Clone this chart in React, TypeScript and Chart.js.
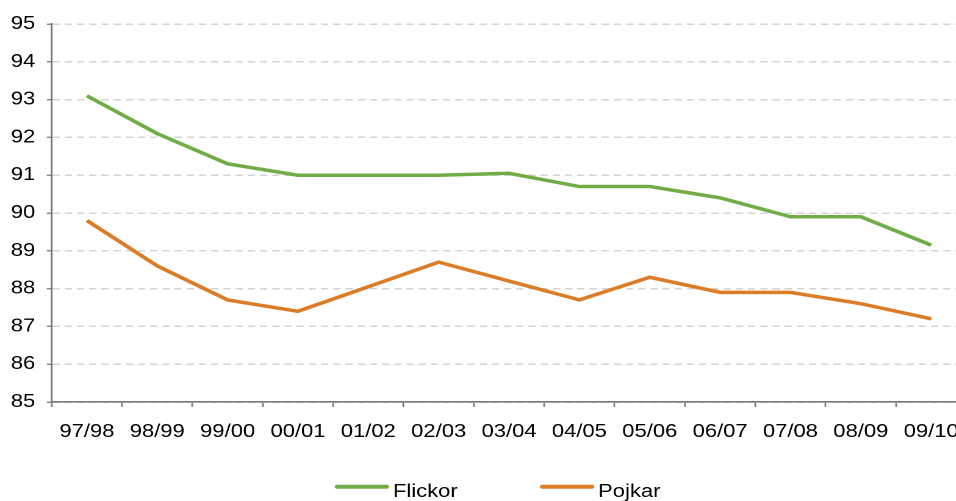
import React, { useEffect, useRef } from "react";
import { Chart, registerables } from "chart.js";

Chart.register(...registerables);

const categories = ["97/98", "98/99", "99/00", "00/01", "01/02", "02/03", "03/04", "04/05", "05/06", "06/07", "07/08", "08/09", "09/10"];
const flickor = [93.1, 92.1, 91.3, 91.0, 91.0, 91.0, 91.05, 90.7, 90.7, 90.4, 89.9, 89.9, 89.15];
const pojkar = [89.8, 88.6, 87.7, 87.4, 88.05, 88.7, 88.2, 87.7, 88.3, 87.9, 87.9, 87.6, 87.2];
const seriesLabels = ["Flickor", "Pojkar"];
const seriesColors = ["#70AD47", "#DC7C27"];
const yMin = 85;
const yMax = 95;

const SX = 1.22;
const W = 800;
const H = 520;
const FONT = '"Liberation Sans", Arial, Helvetica, sans-serif';
const FS = 18;
const AXIS = "#7a7a7a";

const legendPlugin = {
  id: "customLegend",
  afterDraw(chart: any) {
    const ctx = chart.ctx;
    ctx.save();
    ctx.font = `${FS}px ${FONT}`;
    ctx.textBaseline = "alphabetic";
    ctx.textAlign = "left";
    let x = 275.4;
    const lineY = 486.7;
    const textY = 497;
    chart.data.datasets.forEach((ds: any) => {
      ctx.strokeStyle = ds.borderColor;
      ctx.lineWidth = 4;
      ctx.lineCap = "round";
      ctx.beginPath();
      ctx.moveTo(x + 1, lineY);
      ctx.lineTo(x + 41.5, lineY);
      ctx.stroke();
      ctx.fillStyle = "#000";
      const tx = x + 46.7;
      ctx.fillText(ds.label, tx, textY);
      x = tx + ctx.measureText(ds.label).width + 68.5;
    });
    ctx.restore();
  },
};

export default function App() {
  const ref = useRef<HTMLCanvasElement | null>(null);

  useEffect(() => {
    if (!ref.current) return;
    const chart = new Chart(ref.current, {
      type: "line",
      data: {
        labels: categories,
        datasets: [
          {
            label: seriesLabels[0],
            data: flickor,
            borderColor: seriesColors[0],
            backgroundColor: seriesColors[0],
            borderWidth: 3.5,
            pointRadius: 0,
            tension: 0,
            fill: false,
          },
          {
            label: seriesLabels[1],
            data: pojkar,
            borderColor: seriesColors[1],
            backgroundColor: seriesColors[1],
            borderWidth: 3.5,
            pointRadius: 0,
            tension: 0,
            fill: false,
          },
        ],
      },
      options: {
        animation: false,
        responsive: true,
        maintainAspectRatio: false,
        devicePixelRatio: 2,
        layout: { padding: { top: 24, left: 0, right: 6, bottom: 58 } },
        plugins: {
          legend: { display: false },
          tooltip: { enabled: false },
        },
        scales: {
          x: {
            offset: true,
            afterFit: (s: any) => {
              s.height = 60;
            },
            grid: {
              display: true,
              offset: true,
              drawOnChartArea: false,
              drawTicks: true,
              tickLength: 5,
              tickColor: AXIS,
              tickWidth: 1.3,
              color: AXIS,
            },
            border: { display: true, color: AXIS, width: 1.6 },
            ticks: {
              color: "#000",
              font: { family: FONT, size: FS },
              padding: 14,
              maxRotation: 0,
              autoSkip: false,
            },
          },
          y: {
            min: yMin,
            max: yMax,
            afterFit: (s: any) => {
              s.width = 42.4;
            },
            grid: {
              display: true,
              color: "#d4d4d4",
              lineWidth: 1.5,
              drawTicks: true,
              tickLength: 4,
              tickColor: AXIS,
              tickWidth: 1.3,
              tickBorderDash: [],
            },
            border: { display: true, color: AXIS, width: 1.6, dash: [6, 4] },
            ticks: {
              stepSize: 1,
              color: "#000",
              font: { family: FONT, size: FS },
              padding: 9.5,
            },
          },
        },
      },
      plugins: [legendPlugin],
    } as any);
    return () => chart.destroy();
  }, []);

  return (
    <div style={{ position: "fixed", left: 0, top: 0, width: 956, height: 501, overflow: "hidden", background: "#fff" }}>
      <div style={{ position: "absolute", left: 0, top: 0, width: W, height: H, transform: `scaleX(${SX})`, transformOrigin: "0 0" }}>
        <canvas ref={ref} />
      </div>
    </div>
  );
}
